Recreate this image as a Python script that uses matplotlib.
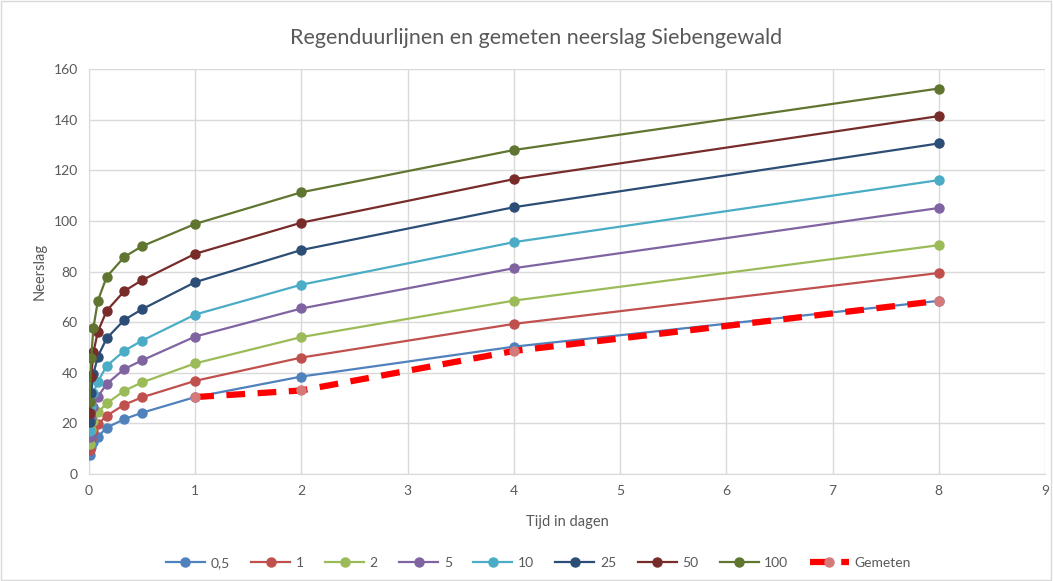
import numpy as np
import matplotlib.pyplot as plt
from matplotlib.patches import Rectangle

plt.rcParams['font.family'] = ['Lato', 'DejaVu Sans']

# duur in dagen: 10min, 30min, 1u, 2u, 4u, 8u, 12u, 1d, 2d, 4d, 8d
duur = [10/1440, 30/1440, 1/24, 2/24, 4/24, 8/24, 12/24, 1, 2, 4, 8]

herhalingstijden = ['0,5', '1', '2', '5', '10', '25', '50', '100']
neerslag = [
    [7.5, 10.5, 12.7, 14.7, 18.3, 21.7, 24.2, 30.4, 38.5, 50.3, 68.4],
    [9.5, 14.0, 17.0, 19.6, 23.0, 27.4, 30.3, 36.8, 46.0, 59.3, 79.4],
    [11.7, 17.5, 21.0, 24.3, 27.9, 32.9, 36.2, 43.7, 54.1, 68.5, 90.4],
    [14.7, 22.0, 26.5, 30.5, 35.6, 41.5, 44.9, 54.3, 65.4, 81.3, 105.1],
    [17.1, 27.0, 32.0, 36.5, 42.7, 48.7, 52.7, 63.0, 74.8, 91.6, 116.1],
    [20.7, 31.9, 39.5, 46.4, 53.6, 60.9, 65.1, 75.8, 88.5, 105.4, 130.6],
    [24.2, 38.5, 48.0, 56.2, 64.5, 72.3, 76.6, 87.0, 99.3, 116.5, 141.4],
    [28.4, 45.8, 57.7, 68.4, 77.9, 85.8, 90.0, 98.8, 111.3, 128.0, 152.3],
]
kleuren = ['#4F81BD', '#C0504D', '#9BBB59', '#8064A2', '#4BACC6',
           '#2C4D75', '#772C2A', '#5F7530']

gemeten_x = [1, 2, 4, 8]
gemeten_y = [30.4, 33.0, 48.6, 68.4]

fig = plt.figure(figsize=(10.53, 5.81), dpi=100)
ax = fig.add_axes([0.0845, 0.1842, 0.9079, 0.697])

for lab, vals, c in zip(herhalingstijden, neerslag, kleuren):
    ax.plot(duur, vals, color=c, lw=1.6, marker='o', ms=6.5, label=lab, zorder=3)

ax.plot(gemeten_x, gemeten_y, color='#FF0000', lw=4.5, ls=(0, (3, 2)),
        marker='o', ms=6.5, mfc='#D47A7A', mec='#D47A7A', label='Gemeten', zorder=4)

ax.set_xlim(0, 9)
ax.set_ylim(0, 160)
ax.set_xticks(range(0, 10))
ax.set_yticks(range(0, 161, 20))
ax.grid(True, color='#D9D9D9', lw=1)
ax.set_axisbelow(True)
for s in ax.spines.values():
    s.set_visible(False)
ax.spines['left'].set_visible(True)
ax.spines['bottom'].set_visible(True)
ax.spines['left'].set_color('#D9D9D9')
ax.spines['bottom'].set_color('#D9D9D9')
ax.tick_params(length=0, labelsize=10, colors='#595959', pad=8)

ax.set_xlabel('Tijd in dagen', fontsize=10.5, color='#595959', labelpad=13)
ax.set_ylabel('Neerslag', fontsize=10.5, color='#595959', labelpad=5)
fig.text(0.509, 0.935, 'Regenduurlijnen en gemeten neerslag Siebengewald',
         ha='center', va='center', fontsize=15.5, color='#595959')

ax.legend(loc='center', bbox_to_anchor=(0.47, -0.22), ncol=9, frameon=False,
          fontsize=10, labelcolor='#595959', handlelength=2.8, columnspacing=1.55,
          handletextpad=0.4)

fig.patches.append(Rectangle((0.001, 0.001), 0.997, 0.997, transform=fig.transFigure,
                             fill=False, edgecolor='#D9D9D9', lw=1))

fig.savefig('out.png', dpi=100, facecolor='white')
